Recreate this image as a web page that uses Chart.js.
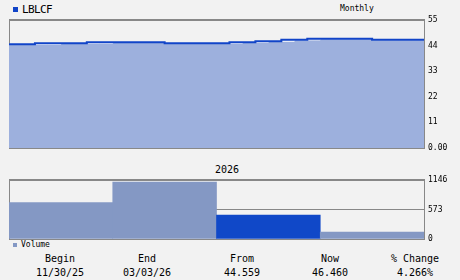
<!DOCTYPE html>
<html>
<head>
<meta charset="utf-8">
<script src="https://cdn.jsdelivr.net/npm/chart.js@4.4.1/dist/chart.umd.min.js"></script>
<style>
  body { margin: 0; background: #f2f2f2; width: 460px; height: 280px; overflow: hidden; position: relative;
         font-family: "DejaVu Sans Mono", monospace; color: #000; }
  canvas { position: absolute; left: 0; }
  #priceChart { top: 0; }
  #volumeChart { top: 160px; }
  .txt { position: absolute; white-space: nowrap; line-height: 1; transform: translate(-50%, -50%); }
  .lbl { position: absolute; white-space: nowrap; line-height: 1; transform: translateY(-50%); }
  .sq { position: absolute; }
</style>
</head>
<body>
<div class="sq" style="left:13px;top:7px;width:5px;height:5px;background:#1144c8"></div>
<div class="lbl" style="left:22px;top:9px;font-size:11px;letter-spacing:-0.6px">LBLCF</div>
<div class="lbl" style="left:340px;top:9px;font-size:8px">Monthly</div>
<div class="txt" style="left:227px;top:170px;font-size:10px">2026</div>
<div class="sq" style="left:13px;top:243px;width:4px;height:4px;background:#8498c4"></div>
<div class="lbl" style="left:21px;top:245px;font-size:8px">Volume</div>
<div id="summary"></div>

<canvas id="priceChart" width="460" height="160"></canvas>
<canvas id="volumeChart" width="460" height="90"></canvas>

<script>
// Price (step line) - one value per slot
const closeValues = [
    44.56, 44.56,
    45.0, 45.0, 45.0, 45.0,
    45.4, 45.4, 45.4, 45.4, 45.4, 45.4,
    45.0, 45.0, 45.0, 45.0, 45.0,
    45.4, 45.4,
    45.9, 45.9,
    46.46, 46.46,
    46.9, 46.9, 46.9, 46.9, 46.9,
    46.46, 46.46, 46.46, 46.46
];
const areaValues = [
    44.56, 44.56, 44.56, 44.56,
    45.0, 45.0, 45.0, 45.0,
    45.4, 45.4, 45.4, 45.4,
    45.0, 45.0, 45.0, 45.0, 45.0, 45.0,
    45.4, 45.4,
    45.9, 45.9,
    46.46, 46.46,
    46.9, 46.9, 46.9, 46.9,
    46.46, 46.46, 46.46, 46.46
];
const priceTicks = [0, 11, 22, 33, 44, 55];

// Volume (monthly)
const volumeMonths = ['Dec', 'Jan', 'Feb', 'Mar'];
const volumeValues = [705, 1107, 466, 136];
const volumeTicks = [0, 573, 1146];
const highlightMonth = 'Feb';

// Summary row
const summaryLabels = ['Begin', 'End', 'From', 'Now', '% Change'];
const summaryValues = ['11/30/25', '03/03/26', '44.559', '46.460', '4.266%'];

const LINE_BLUE = '#1144c8';
const AREA_BLUE = '#9db0dd';
const VOL_GRAY = '#8498c4';
const VOL_BLUE = '#1048c8';
const FRAME = '#888888';
const tickFont = { family: 'DejaVu Sans Mono', size: 8 };

// summary text
const colCenters = [60, 147, 242, 330, 415];
const summary = document.getElementById('summary');
summaryLabels.forEach((label, i) => {
    const top = document.createElement('div');
    top.className = 'txt';
    top.style.cssText = `left:${colCenters[i]}px;top:259px;font-size:10px`;
    top.textContent = label;
    summary.appendChild(top);
    const val = document.createElement('div');
    val.className = 'txt';
    val.style.cssText = `left:${colCenters[i]}px;top:273px;font-size:10px`;
    val.textContent = summaryValues[i];
    summary.appendChild(val);
});

// Frame around the plot area, drawn under the data
const framePlugin = {
    id: 'frame',
    beforeDatasetsDraw(chart) {
        const { ctx, chartArea: a } = chart;
        ctx.save();
        ctx.strokeStyle = FRAME;
        ctx.lineWidth = 1;
        ctx.strokeRect(a.left + 0.5, a.top - 0.5, a.right - a.left, a.bottom - a.top + 1);
        ctx.restore();
    }
};

const withLast = arr => arr.concat(arr[arr.length - 1]);
const slotLabels = withLast(closeValues).map((_, i) => String(i));

function rightAxis(ticks, max, fmt) {
    return {
        position: 'right',
        min: 0,
        max: max,
        afterFit(scale) { scale.width = 36; },
        afterBuildTicks(scale) { scale.ticks = ticks.map(v => ({ value: v })); },
        grid: { color: FRAME, drawTicks: false },
        border: { display: false },
        ticks: { padding: 4, color: '#000', font: tickFont, callback: fmt }
    };
}

new Chart('priceChart', {
    type: 'line',
    data: {
        labels: slotLabels,
        datasets: [{
            label: 'LBLCF',
            data: withLast(closeValues),
            borderColor: LINE_BLUE,
            borderWidth: 2,
            stepped: true,
            pointRadius: 0,
            fill: false,
            order: 0
        }, {
            label: 'area',
            data: withLast(areaValues),
            borderColor: '#ffffff',
            borderWidth: 1,
            backgroundColor: AREA_BLUE,
            stepped: true,
            pointRadius: 0,
            fill: 'origin',
            order: 1
        }]
    },
    options: {
        responsive: false,
        devicePixelRatio: 1,
        animation: false,
        layout: { padding: { left: 9, top: 20, bottom: 12, right: 0 } },
        plugins: { legend: { display: false }, tooltip: { enabled: false } },
        scales: {
            x: { display: false, offset: false },
            y: rightAxis(priceTicks, 55, v => v === 0 ? '0.00' : String(v))
        }
    },
    plugins: [framePlugin]
});

new Chart('volumeChart', {
    type: 'bar',
    data: {
        labels: volumeMonths,
        datasets: [{
            label: 'Volume',
            data: volumeValues,
            backgroundColor: volumeMonths.map(m => m === highlightMonth ? VOL_BLUE : VOL_GRAY),
            barPercentage: 1,
            categoryPercentage: 1,
            borderWidth: 0
        }]
    },
    options: {
        responsive: false,
        devicePixelRatio: 1,
        animation: false,
        layout: { padding: { left: 9, top: 20, bottom: 11, right: 0 } },
        plugins: { legend: { display: false }, tooltip: { enabled: false } },
        scales: {
            x: { display: false },
            y: rightAxis(volumeTicks, 1146, v => String(v))
        }
    },
    plugins: [framePlugin]
});
</script>
</body>
</html>
